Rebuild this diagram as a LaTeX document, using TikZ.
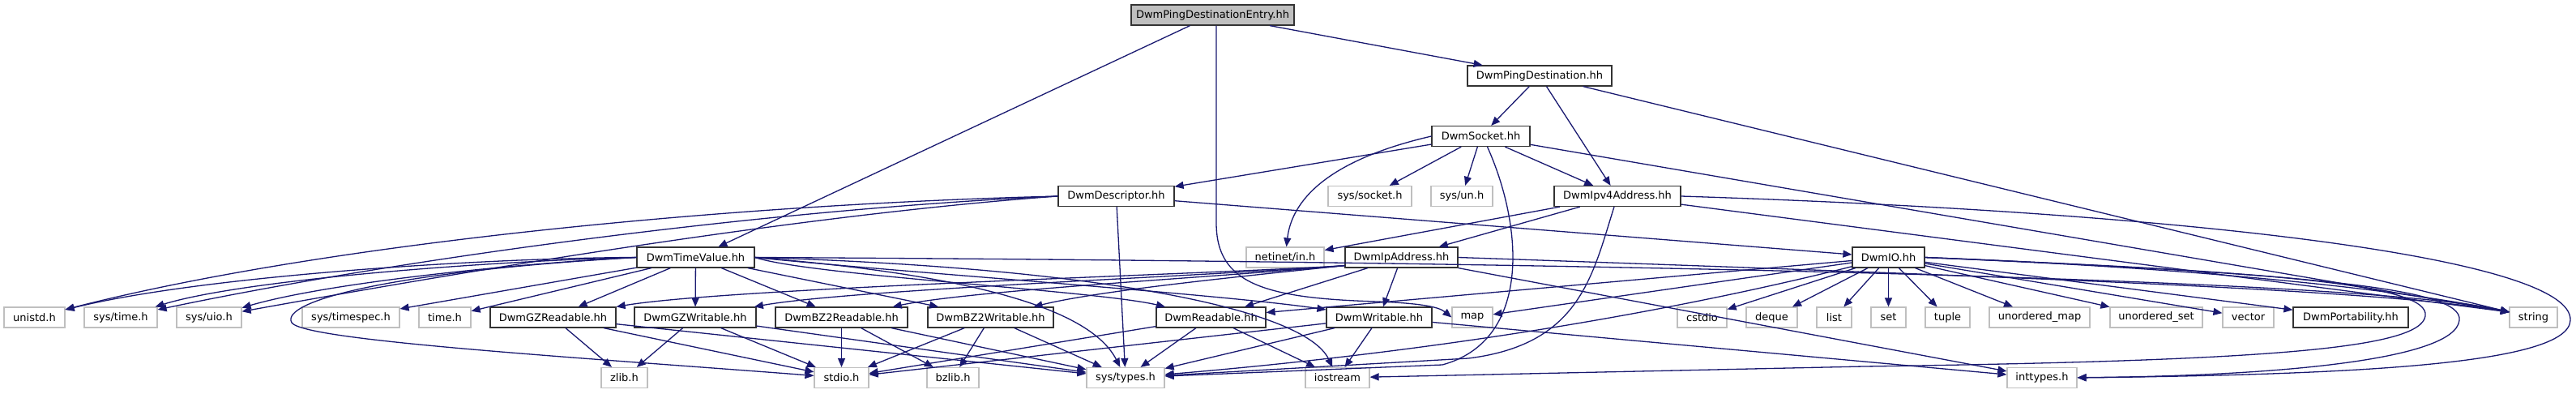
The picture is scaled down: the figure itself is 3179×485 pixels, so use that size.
\documentclass[tikz,border=0pt]{standalone}
\usepackage{fontspec}
\setmainfont{DejaVu Sans}
\usetikzlibrary{arrows.meta}
\definecolor{mblue}{HTML}{191970}
\definecolor{graybd}{HTML}{BFBFBF}
\begin{document}
\begin{tikzpicture}[x=1pt,y=-1pt,
  nd/.style={draw=black!80, line width=1.2pt, fill=white, minimum height=25pt, inner sep=0pt, font=\fontsize{13}{15}\selectfont},
  sys/.style={nd, draw=graybd},
  root/.style={nd, fill=graybd},
  edge/.style={draw=mblue, line width=1.3pt, -{Triangle[length=11pt,width=9pt]}}]
\useasboundingbox[fill=white] (0,0) rectangle (3179,485);
% row 0
\node[root, minimum width=201pt] (entry) at (1496.5,18.5) {DwmPingDestinationEntry.hh};
% row 1
\node[nd, minimum width=178pt] (pdest) at (1900,93.5) {DwmPingDestination.hh};
% row 2
\node[nd, minimum width=121pt] (socket) at (1827.5,168) {DwmSocket.hh};
% row 3
\node[nd, minimum width=143pt] (desc) at (1377.5,242) {DwmDescriptor.hh};
\node[sys, minimum width=103pt] (syssocket) at (1690.5,242) {sys/socket.h};
\node[sys, minimum width=76pt] (sysun) at (1804,242) {sys/un.h};
\node[nd, minimum width=156pt] (ipv4) at (1996,242) {DwmIpv4Address.hh};
% row 4
\node[nd, minimum width=145pt] (timeval) at (858.5,317.5) {DwmTimeValue.hh};
\node[sys, minimum width=96pt] (netinet) at (1586,317.5) {netinet/in.h};
\node[nd, minimum width=139pt] (ipaddr) at (1729.5,317.5) {DwmIpAddress.hh};
\node[nd, minimum width=89pt] (io) at (2330.5,317.5) {DwmIO.hh};
% row 5
\node[sys, minimum width=75pt] (unistd) at (42.5,391.5) {unistd.h};
\node[sys, minimum width=90pt] (systime) at (149,391.5) {sys/time.h};
\node[sys, minimum width=80pt] (sysuio) at (258,391.5) {sys/uio.h};
\node[sys, minimum width=120pt] (timespec) at (433,391.5) {sys/timespec.h};
\node[sys, minimum width=64pt] (timeh) at (549,391.5) {time.h};
\node[nd, minimum width=155pt] (gzr) at (682.5,391.5) {DwmGZReadable.hh};
\node[nd, minimum width=150pt] (gzw) at (858,391.5) {DwmGZWritable.hh};
\node[nd, minimum width=163pt] (bztr) at (1038.5,391.5) {DwmBZ2Readable.hh};
\node[nd, minimum width=155pt] (bztw) at (1222.5,391.5) {DwmBZ2Writable.hh};
\node[nd, minimum width=135pt] (readable) at (1494.5,391.5) {DwmReadable.hh};
\node[nd, minimum width=130pt] (writable) at (1702,391.5) {DwmWritable.hh};
\node[sys, minimum width=50pt] (map) at (1817,391.5) {map};
\node[sys, minimum width=61pt] (cstdio) at (2100.5,391.5) {cstdio};
\node[sys, minimum width=63pt] (deque) at (2186.5,391.5) {deque};
\node[sys, minimum width=43pt] (list) at (2263.5,391.5) {list};
\node[sys, minimum width=43pt] (set) at (2330.5,391.5) {set};
\node[sys, minimum width=55pt] (tuple) at (2403.5,391.5) {tuple};
\node[sys, minimum width=124pt] (umap) at (2517,391.5) {unordered\_map};
\node[sys, minimum width=114pt] (uset) at (2661,391.5) {unordered\_set};
\node[sys, minimum width=63pt] (vector) at (2774.5,391.5) {vector};
\node[nd, minimum width=142pt] (portab) at (2901,391.5) {DwmPortability.hh};
\node[sys, minimum width=59pt] (string) at (3126.5,391.5) {string};
% row 6
\node[sys, minimum width=57pt] (zlib) at (770.5,466) {zlib.h};
\node[sys, minimum width=67pt] (stdio) at (1038.5,466) {stdio.h};
\node[sys, minimum width=64pt] (bzlib) at (1176,466) {bzlib.h};
\node[sys, minimum width=96pt] (systypes) at (1389,466) {sys/types.h};
\node[sys, minimum width=79pt] (iostream) at (1650.5,466) {iostream};
\node[sys, minimum width=86pt] (inttypes) at (2520,466) {inttypes.h};
\coordinate (strin) at (3097,385);

% entry
\draw[edge] (entry) -- (timeval);
\draw[edge] (entry) -- (pdest);
\draw[edge] ([xshift=4.5pt]entry.south) -- (1501,275) .. controls (1501,350) and (1560,368) .. (1700,372) .. controls (1750,374) and (1775,378) .. (map.west);
% pdest
\draw[edge] (pdest) -- (socket);
\draw[edge] (pdest) -- (ipv4);
\draw[edge] (pdest) -- (strin);
% socket
\draw[edge] (socket) -- (desc);
\draw[edge] (socket.west) .. controls (1650,195) and (1595,240) .. (netinet);
\draw[edge] (socket) -- (syssocket);
\draw[edge] (socket) -- (sysun);
\draw[edge] (socket) -- (ipv4);
\draw[edge] (socket) -- (strin);
\draw[edge] ([xshift=8pt]socket.south) .. controls (1880,280) and (1890,420) .. (1780,450) -- (systypes);
% desc
\draw[edge] (desc) -- (systypes);
\draw[edge] (desc) -- (io);
\draw[edge] (desc.west) .. controls (900,252) and (400,300) .. (unistd);
\draw[edge] (desc.west) .. controls (950,258) and (500,318) .. (systime);
\draw[edge] (desc.west) .. controls (1000,264) and (600,330) .. (sysuio);
% ipv4
\draw[edge] (ipv4) -- (netinet);
\draw[edge] (ipv4) -- (ipaddr);
\draw[edge] (ipv4) -- (strin);
\draw[edge] ([xshift=-4pt]ipv4.south) .. controls (1965,340) and (1950,425) .. (1812,442) -- (systypes);
\draw[edge] (ipv4.east) .. controls (2700,262) and (3175,318) .. (3172,395) .. controls (3170,450) and (2900,462) .. (inttypes.east);
% ipaddr
\draw[edge] (ipaddr) -- (readable);
\draw[edge] (ipaddr) -- (writable);
\draw[edge] (ipaddr.east) .. controls (2600,345) and (2950,360) .. (strin);
\draw[edge] (ipaddr) -- (inttypes);
\draw[edge] ([yshift=3pt]ipaddr.south west) .. controls (1500,338) and (900,355) .. (gzr);
\draw[edge] ([yshift=3pt]ipaddr.south west) .. controls (1500,340) and (1050,357) .. (gzw);
\draw[edge] ([yshift=3pt]ipaddr.south west) .. controls (1500,342) and (1200,358) .. (bztr);
\draw[edge] ([yshift=3pt]ipaddr.south west) .. controls (1500,344) and (1350,360) .. (bztw);
% timeval
\draw[edge] (timeval) -- (gzr);
\draw[edge] (timeval) -- (gzw);
\draw[edge] (timeval) -- (bztr);
\draw[edge] (timeval) -- (bztw);
\draw[edge] (timeval) -- (timespec);
\draw[edge] (timeval) -- (timeh);
\draw[edge] (timeval.west) .. controls (600,318) and (250,340) .. (unistd);
\draw[edge] (timeval.west) .. controls (600,322) and (300,345) .. (systime);
\draw[edge] (timeval.west) .. controls (620,326) and (400,350) .. (sysuio);
\draw[edge] (timeval.east) .. controls (1000,340) and (1350,358) .. (readable);
\draw[edge] (timeval.east) .. controls (1100,335) and (1500,362) .. (writable);
\draw[edge] (timeval.east) .. controls (1150,335) and (1340,370) .. (systypes);
\draw[edge] (timeval.east) .. controls (1350,330) and (1610,380) .. (iostream);
\draw[edge] (timeval.east) .. controls (1800,322) and (2900,340) .. (strin);
\draw[edge] (timeval.west) .. controls (480,335) and (345,372) .. (360,398) .. controls (375,420) and (700,440) .. (stdio);
% io
\foreach \t in {cstdio,deque,list,set,tuple,umap,uset,vector,portab,map,readable}
  \draw[edge] (io) -- (\t);
\draw[edge] (io.east) .. controls (2700,330) and (2950,355) .. (strin);
\draw[edge] (io) .. controls (2000,400) and (1700,440) .. (systypes);
\draw[edge] (io.east) .. controls (2800,335) and (3000,350) .. (2993,390) .. controls (2986,430) and (2800,445) .. (2300,452) -- (iostream);
\draw[edge] (io.east) .. controls (2850,338) and (3040,355) .. (3035,395) .. controls (3030,445) and (2800,464) .. (inttypes);
% gz / bz2
\draw[edge] (gzr) -- (zlib);
\draw[edge] (gzr) -- (stdio);
\draw[edge] (gzr) -- (systypes);
\draw[edge] (gzw) -- (zlib);
\draw[edge] (gzw) -- (stdio);
\draw[edge] (gzw) -- (systypes);
\draw[edge] (bztr) -- (stdio);
\draw[edge] (bztr) -- (bzlib);
\draw[edge] (bztr) -- (systypes);
\draw[edge] (bztw) -- (stdio);
\draw[edge] (bztw) -- (bzlib);
\draw[edge] (bztw) -- (systypes);
% readable / writable
\draw[edge] (readable) -- (stdio);
\draw[edge] (readable) -- (systypes);
\draw[edge] (readable) -- (iostream);
\draw[edge] (writable) -- (stdio);
\draw[edge] (writable) -- (systypes);
\draw[edge] (writable) -- (iostream);
\draw[edge] (writable) -- (inttypes);
\end{tikzpicture}
\end{document}
